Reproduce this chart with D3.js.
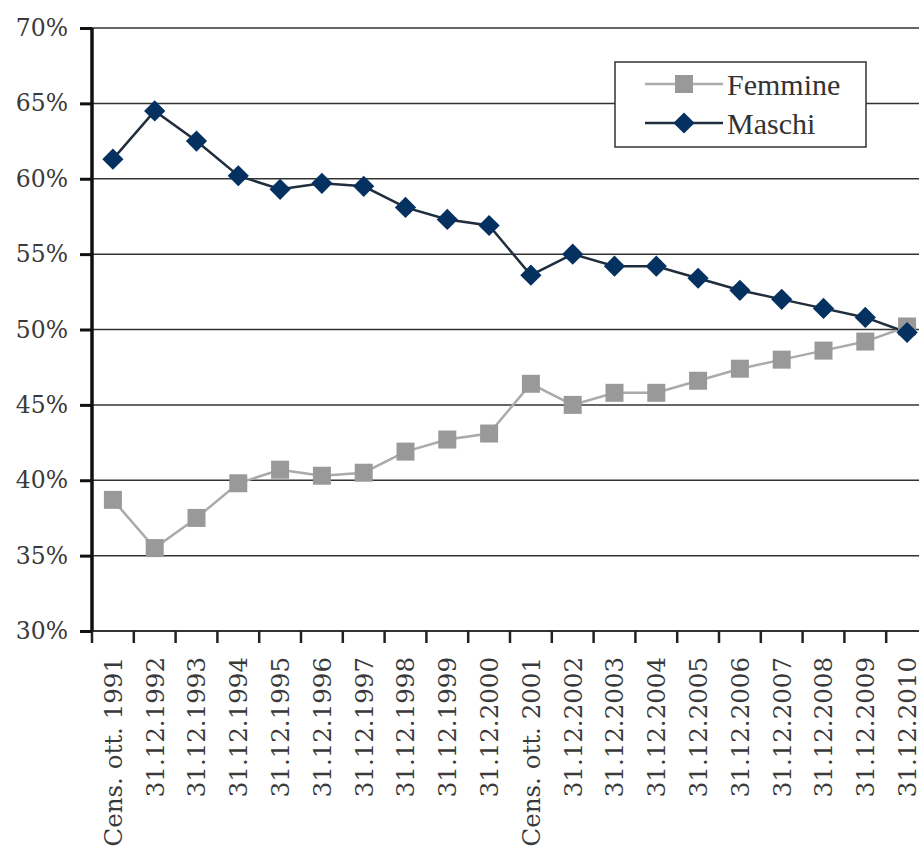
<!DOCTYPE html>
<html>
<head>
<meta charset="utf-8">
<script src="https://cdn.jsdelivr.net/npm/d3@7"></script>
<style>
  body { margin: 0; background: #fff; }
  svg { display: block; }
  .tick text { font-family: "DejaVu Serif", serif; fill: #3a3a3a; }
</style>
</head>
<body>
<div id="chart"></div>
<script>
// categories (x axis)
const categories = [
  'Cens. ott. 1991', '31.12.1992', '31.12.1993', '31.12.1994', '31.12.1995',
  '31.12.1996', '31.12.1997', '31.12.1998', '31.12.1999', '31.12.2000',
  'Cens. ott. 2001', '31.12.2002', '31.12.2003', '31.12.2004', '31.12.2005',
  '31.12.2006', '31.12.2007', '31.12.2008', '31.12.2009', '31.12.2010'
];

// series (percent)
const femmine = [38.7, 35.5, 37.5, 39.8, 40.7, 40.3, 40.5, 41.9, 42.7, 43.1,
                 46.4, 45.0, 45.8, 45.8, 46.6, 47.4, 48.0, 48.6, 49.2, 50.2];
const maschi  = [61.3, 64.5, 62.5, 60.2, 59.3, 59.7, 59.5, 58.1, 57.3, 56.9,
                 53.6, 55.0, 54.2, 54.2, 53.4, 52.6, 52.0, 51.4, 50.8, 49.8];

const yTicks = [30, 35, 40, 45, 50, 55, 60, 65, 70];
const seriesNames = ['Femmine', 'Maschi'];

const W = 919, H = 850;
const plotL = 92, plotT = 28, plotB = 631, step = 41.8;

const svg = d3.select('#chart').append('svg')
  .attr('width', W).attr('height', H);

const x = d3.scaleBand()
  .domain(categories)
  .range([plotL, plotL + step * categories.length])
  .padding(0);

const y = d3.scaleLinear().domain([30, 70]).range([plotB, plotT]);

// gridlines
svg.append('g')
  .selectAll('line')
  .data(yTicks.filter(d => d > 30))
  .join('line')
  .attr('x1', plotL).attr('x2', x.range()[1])
  .attr('y1', d => y(d)).attr('y2', d => y(d))
  .attr('stroke', '#333').attr('stroke-width', 1.5);

// x axis: baseline + ticks between categories
svg.append('line')
  .attr('x1', plotL).attr('x2', x.range()[1])
  .attr('y1', plotB).attr('y2', plotB)
  .attr('stroke', '#333').attr('stroke-width', 2);

svg.append('g')
  .selectAll('line')
  .data(categories.concat(['end']))
  .join('line')
  .attr('x1', (d, i) => plotL + i * x.step())
  .attr('x2', (d, i) => plotL + i * x.step())
  .attr('y1', plotB).attr('y2', plotB + 12)
  .attr('stroke', '#222').attr('stroke-width', 2.5);

const xAxis = svg.append('g')
  .attr('transform', `translate(0,${plotB})`)
  .call(d3.axisBottom(x).tickSize(0));
xAxis.select('.domain').remove();
xAxis.selectAll('.tick text')
  .attr('font-size', 24.5)
  .attr('text-anchor', 'end')
  .attr('transform', 'translate(0,26) rotate(-90)')
  .attr('x', 0).attr('y', 0)
  .attr('dy', '0.36em');

// y axis
const yAxis = svg.append('g')
  .attr('transform', `translate(${plotL},0)`)
  .call(d3.axisLeft(y).tickValues(yTicks).tickSize(12).tickPadding(12)
    .tickFormat(d => d + '%'));
yAxis.select('.domain').attr('stroke', '#111').attr('stroke-width', 3.5)
  .attr('d', `M0,${plotT}V${plotB}`);
yAxis.selectAll('.tick line').attr('stroke', '#111').attr('stroke-width', 3);
yAxis.selectAll('.tick text').attr('font-size', 23.5);

// lines
const line = d3.line()
  .x((d, i) => x(categories[i]) + x.bandwidth() / 2)
  .y(d => y(d));

svg.append('path').datum(femmine)
  .attr('d', line).attr('fill', 'none')
  .attr('stroke', '#aaa').attr('stroke-width', 2.5);

svg.append('path').datum(maschi)
  .attr('d', line).attr('fill', 'none')
  .attr('stroke', '#1f2d3d').attr('stroke-width', 2.5);

// markers (diamond = square turned 45 degrees)
const sq = d3.symbol().type(d3.symbolSquare).size(18 * 18);
const dia = d3.symbol().type(d3.symbolSquare).size(15 * 15);

svg.append('g').selectAll('path')
  .data(femmine)
  .join('path')
  .attr('d', sq)
  .attr('transform', (d, i) => `translate(${x(categories[i]) + x.bandwidth() / 2},${y(d)})`)
  .attr('fill', '#999');

svg.append('g').selectAll('path')
  .data(maschi)
  .join('path')
  .attr('d', dia)
  .attr('transform', (d, i) => `translate(${x(categories[i]) + x.bandwidth() / 2},${y(d)}) rotate(45)`)
  .attr('fill', '#04315f');

// legend
const legend = svg.append('g');
legend.append('rect')
  .attr('x', 615).attr('y', 62).attr('width', 251).attr('height', 85)
  .attr('fill', '#fff').attr('stroke', '#333').attr('stroke-width', 1.5);

const legendItems = legend.selectAll('g.item')
  .data(seriesNames)
  .join('g')
  .attr('class', 'item')
  .attr('transform', (d, i) => `translate(0,${84 + i * 39})`);

legendItems.append('line')
  .attr('x1', 645).attr('x2', 723)
  .attr('stroke', (d, i) => i === 0 ? '#aaa' : '#1f2d3d')
  .attr('stroke-width', 2.5);

legendItems.append('path')
  .attr('d', (d, i) => i === 0 ? sq() : dia())
  .attr('transform', (d, i) => i === 0 ? 'translate(684,0)' : 'translate(684,0) rotate(45)')
  .attr('fill', (d, i) => i === 0 ? '#999' : '#04315f');

legendItems.append('text')
  .attr('x', 727).attr('dy', '0.35em')
  .attr('font-family', '"Liberation Serif", serif')
  .attr('font-size', 30)
  .attr('fill', '#333')
  .text(d => d);
</script>
</body>
</html>
